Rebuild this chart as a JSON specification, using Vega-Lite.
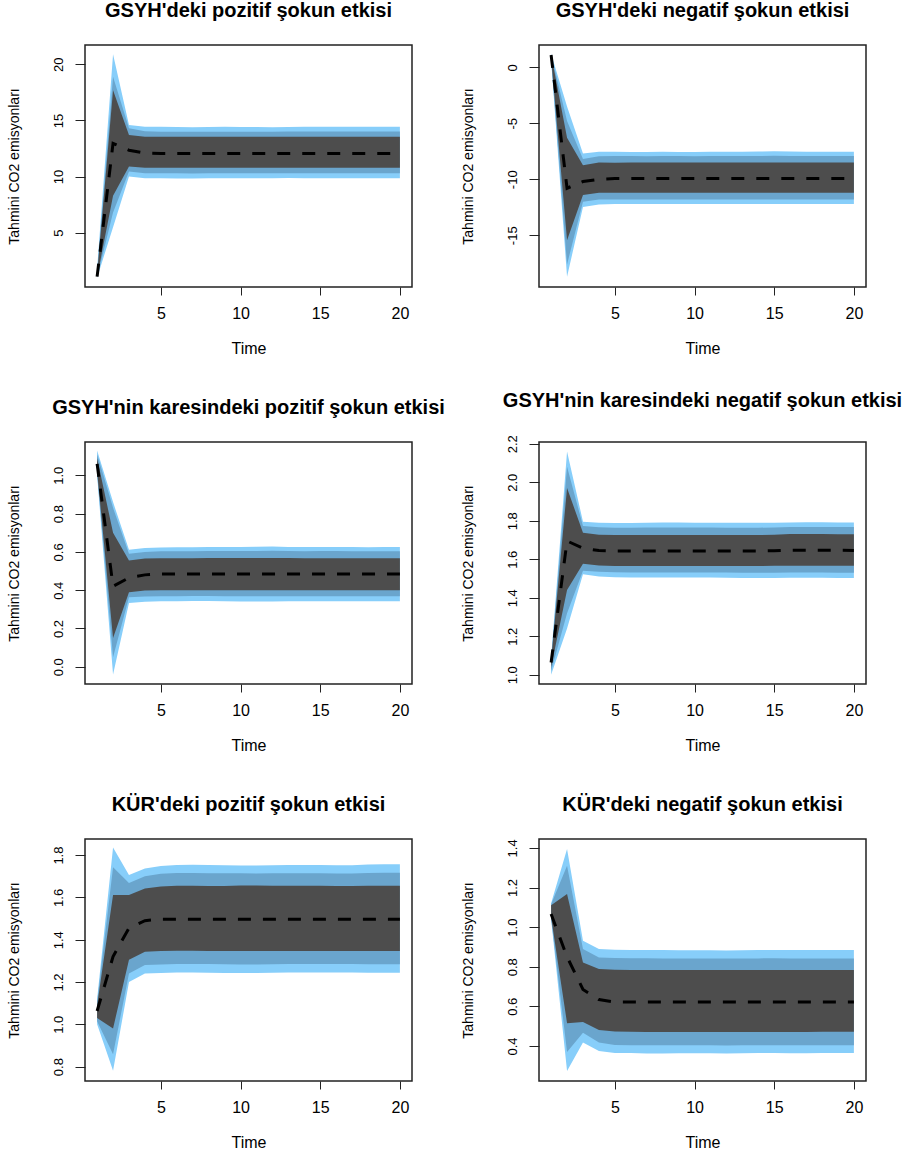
{
  "$schema": "https://vega.github.io/schema/vega-lite/v6.json",
  "background": "white",
  "padding": {"left": 6, "top": 0, "right": 5, "bottom": 5},
  "bounds": "flush",
  "columns": 2,
  "spacing": {"row": 155, "column": 127},
  "datasets": {
    "p1": [
      {"t":1,"outer_lo":1.0,"outer_hi":1.8,"mid_lo":1.03,"mid_hi":1.5,"inner_lo":1.06,"inner_hi":1.3,"median":1.1},
      {"t":2,"outer_lo":5.5,"outer_hi":20.9,"mid_lo":6.8,"mid_hi":18.9,"inner_lo":8.3,"inner_hi":17.7,"median":12.96},
      {"t":3,"outer_lo":10.0,"outer_hi":14.6,"mid_lo":10.45,"mid_hi":14.3,"inner_lo":10.9,"inner_hi":13.7,"median":12.35},
      {"t":4,"outer_lo":9.85,"outer_hi":14.45,"mid_lo":10.3,"mid_hi":14.05,"inner_lo":10.8,"inner_hi":13.55,"median":12.1},
      {"t":5,"outer_lo":9.85,"outer_hi":14.45,"mid_lo":10.3,"mid_hi":14.0,"inner_lo":10.78,"inner_hi":13.55,"median":12.05},
      {"t":6,"outer_lo":9.84,"outer_hi":14.42,"mid_lo":10.29,"mid_hi":14.0,"inner_lo":10.78,"inner_hi":13.54,"median":12.05},
      {"t":7,"outer_lo":9.84,"outer_hi":14.4,"mid_lo":10.28,"mid_hi":13.99,"inner_lo":10.79,"inner_hi":13.54,"median":12.05},
      {"t":8,"outer_lo":9.85,"outer_hi":14.42,"mid_lo":10.3,"mid_hi":14.0,"inner_lo":10.79,"inner_hi":13.55,"median":12.05},
      {"t":9,"outer_lo":9.86,"outer_hi":14.43,"mid_lo":10.3,"mid_hi":14.0,"inner_lo":10.8,"inner_hi":13.55,"median":12.05},
      {"t":10,"outer_lo":9.85,"outer_hi":14.42,"mid_lo":10.29,"mid_hi":14.0,"inner_lo":10.79,"inner_hi":13.55,"median":12.05},
      {"t":11,"outer_lo":9.86,"outer_hi":14.41,"mid_lo":10.31,"mid_hi":14.0,"inner_lo":10.8,"inner_hi":13.54,"median":12.05},
      {"t":12,"outer_lo":9.86,"outer_hi":14.4,"mid_lo":10.31,"mid_hi":13.99,"inner_lo":10.8,"inner_hi":13.54,"median":12.05},
      {"t":13,"outer_lo":9.87,"outer_hi":14.42,"mid_lo":10.3,"mid_hi":14.01,"inner_lo":10.79,"inner_hi":13.55,"median":12.05},
      {"t":14,"outer_lo":9.86,"outer_hi":14.44,"mid_lo":10.3,"mid_hi":14.02,"inner_lo":10.79,"inner_hi":13.55,"median":12.05},
      {"t":15,"outer_lo":9.85,"outer_hi":14.43,"mid_lo":10.3,"mid_hi":14.01,"inner_lo":10.79,"inner_hi":13.55,"median":12.05},
      {"t":16,"outer_lo":9.85,"outer_hi":14.44,"mid_lo":10.3,"mid_hi":14.01,"inner_lo":10.79,"inner_hi":13.55,"median":12.05},
      {"t":17,"outer_lo":9.86,"outer_hi":14.44,"mid_lo":10.3,"mid_hi":14.01,"inner_lo":10.79,"inner_hi":13.55,"median":12.05},
      {"t":18,"outer_lo":9.85,"outer_hi":14.44,"mid_lo":10.3,"mid_hi":14.01,"inner_lo":10.79,"inner_hi":13.55,"median":12.05},
      {"t":19,"outer_lo":9.85,"outer_hi":14.44,"mid_lo":10.3,"mid_hi":14.01,"inner_lo":10.79,"inner_hi":13.55,"median":12.05},
      {"t":20,"outer_lo":9.85,"outer_hi":14.44,"mid_lo":10.3,"mid_hi":14.01,"inner_lo":10.79,"inner_hi":13.55,"median":12.05}
    ],
    "p2": [
      {"t":1,"outer_lo":0.6,"outer_hi":1.2,"mid_lo":0.7,"mid_hi":1.17,"inner_lo":0.85,"inner_hi":1.15,"median":1.1},
      {"t":2,"outer_lo":-18.7,"outer_hi":-3.5,"mid_lo":-17.6,"mid_hi":-4.8,"inner_lo":-15.45,"inner_hi":-6.3,"median":-10.8},
      {"t":3,"outer_lo":-12.47,"outer_hi":-7.7,"mid_lo":-12.0,"mid_hi":-8.2,"inner_lo":-11.4,"inner_hi":-8.74,"median":-10.2},
      {"t":4,"outer_lo":-12.25,"outer_hi":-7.55,"mid_lo":-11.8,"mid_hi":-7.95,"inner_lo":-11.2,"inner_hi":-8.5,"median":-10.0},
      {"t":5,"outer_lo":-12.2,"outer_hi":-7.55,"mid_lo":-11.8,"mid_hi":-7.93,"inner_lo":-11.2,"inner_hi":-8.52,"median":-9.93},
      {"t":6,"outer_lo":-12.2,"outer_hi":-7.56,"mid_lo":-11.8,"mid_hi":-7.93,"inner_lo":-11.2,"inner_hi":-8.5,"median":-9.93},
      {"t":7,"outer_lo":-12.21,"outer_hi":-7.56,"mid_lo":-11.81,"mid_hi":-7.94,"inner_lo":-11.2,"inner_hi":-8.5,"median":-9.93},
      {"t":8,"outer_lo":-12.2,"outer_hi":-7.55,"mid_lo":-11.8,"mid_hi":-7.93,"inner_lo":-11.2,"inner_hi":-8.5,"median":-9.93},
      {"t":9,"outer_lo":-12.2,"outer_hi":-7.56,"mid_lo":-11.8,"mid_hi":-7.93,"inner_lo":-11.2,"inner_hi":-8.5,"median":-9.93},
      {"t":10,"outer_lo":-12.21,"outer_hi":-7.56,"mid_lo":-11.8,"mid_hi":-7.94,"inner_lo":-11.21,"inner_hi":-8.5,"median":-9.93},
      {"t":11,"outer_lo":-12.2,"outer_hi":-7.55,"mid_lo":-11.8,"mid_hi":-7.93,"inner_lo":-11.2,"inner_hi":-8.5,"median":-9.93},
      {"t":12,"outer_lo":-12.2,"outer_hi":-7.55,"mid_lo":-11.8,"mid_hi":-7.93,"inner_lo":-11.2,"inner_hi":-8.5,"median":-9.93},
      {"t":13,"outer_lo":-12.2,"outer_hi":-7.55,"mid_lo":-11.8,"mid_hi":-7.93,"inner_lo":-11.2,"inner_hi":-8.5,"median":-9.93},
      {"t":14,"outer_lo":-12.2,"outer_hi":-7.53,"mid_lo":-11.8,"mid_hi":-7.92,"inner_lo":-11.2,"inner_hi":-8.5,"median":-9.93},
      {"t":15,"outer_lo":-12.2,"outer_hi":-7.5,"mid_lo":-11.8,"mid_hi":-7.9,"inner_lo":-11.2,"inner_hi":-8.5,"median":-9.93},
      {"t":16,"outer_lo":-12.2,"outer_hi":-7.52,"mid_lo":-11.8,"mid_hi":-7.92,"inner_lo":-11.2,"inner_hi":-8.5,"median":-9.93},
      {"t":17,"outer_lo":-12.2,"outer_hi":-7.55,"mid_lo":-11.8,"mid_hi":-7.93,"inner_lo":-11.2,"inner_hi":-8.5,"median":-9.93},
      {"t":18,"outer_lo":-12.2,"outer_hi":-7.55,"mid_lo":-11.8,"mid_hi":-7.93,"inner_lo":-11.2,"inner_hi":-8.5,"median":-9.93},
      {"t":19,"outer_lo":-12.2,"outer_hi":-7.55,"mid_lo":-11.8,"mid_hi":-7.93,"inner_lo":-11.2,"inner_hi":-8.5,"median":-9.93},
      {"t":20,"outer_lo":-12.2,"outer_hi":-7.55,"mid_lo":-11.8,"mid_hi":-7.93,"inner_lo":-11.2,"inner_hi":-8.5,"median":-9.93}
    ],
    "p3": [
      {"t":1,"outer_lo":1.0,"outer_hi":1.13,"mid_lo":1.01,"mid_hi":1.11,"inner_lo":1.02,"inner_hi":1.09,"median":1.06},
      {"t":2,"outer_lo":-0.04,"outer_hi":0.86,"mid_lo":0.05,"mid_hi":0.83,"inner_lo":0.15,"inner_hi":0.70,"median":0.42},
      {"t":3,"outer_lo":0.333,"outer_hi":0.611,"mid_lo":0.363,"mid_hi":0.59,"inner_lo":0.389,"inner_hi":0.555,"median":0.465},
      {"t":4,"outer_lo":0.34,"outer_hi":0.62,"mid_lo":0.367,"mid_hi":0.60,"inner_lo":0.398,"inner_hi":0.565,"median":0.48},
      {"t":5,"outer_lo":0.342,"outer_hi":0.623,"mid_lo":0.368,"mid_hi":0.603,"inner_lo":0.40,"inner_hi":0.567,"median":0.485},
      {"t":6,"outer_lo":0.342,"outer_hi":0.624,"mid_lo":0.368,"mid_hi":0.604,"inner_lo":0.40,"inner_hi":0.567,"median":0.485},
      {"t":7,"outer_lo":0.343,"outer_hi":0.624,"mid_lo":0.369,"mid_hi":0.604,"inner_lo":0.40,"inner_hi":0.567,"median":0.485},
      {"t":8,"outer_lo":0.343,"outer_hi":0.626,"mid_lo":0.369,"mid_hi":0.605,"inner_lo":0.40,"inner_hi":0.568,"median":0.485},
      {"t":9,"outer_lo":0.342,"outer_hi":0.626,"mid_lo":0.368,"mid_hi":0.605,"inner_lo":0.40,"inner_hi":0.568,"median":0.485},
      {"t":10,"outer_lo":0.341,"outer_hi":0.626,"mid_lo":0.368,"mid_hi":0.605,"inner_lo":0.40,"inner_hi":0.568,"median":0.485},
      {"t":11,"outer_lo":0.341,"outer_hi":0.627,"mid_lo":0.368,"mid_hi":0.605,"inner_lo":0.40,"inner_hi":0.568,"median":0.485},
      {"t":12,"outer_lo":0.341,"outer_hi":0.628,"mid_lo":0.368,"mid_hi":0.606,"inner_lo":0.40,"inner_hi":0.568,"median":0.485},
      {"t":13,"outer_lo":0.342,"outer_hi":0.626,"mid_lo":0.368,"mid_hi":0.605,"inner_lo":0.40,"inner_hi":0.568,"median":0.485},
      {"t":14,"outer_lo":0.342,"outer_hi":0.625,"mid_lo":0.368,"mid_hi":0.604,"inner_lo":0.40,"inner_hi":0.567,"median":0.485},
      {"t":15,"outer_lo":0.342,"outer_hi":0.626,"mid_lo":0.368,"mid_hi":0.605,"inner_lo":0.40,"inner_hi":0.567,"median":0.485},
      {"t":16,"outer_lo":0.342,"outer_hi":0.626,"mid_lo":0.368,"mid_hi":0.605,"inner_lo":0.40,"inner_hi":0.567,"median":0.485},
      {"t":17,"outer_lo":0.342,"outer_hi":0.625,"mid_lo":0.368,"mid_hi":0.604,"inner_lo":0.40,"inner_hi":0.567,"median":0.485},
      {"t":18,"outer_lo":0.342,"outer_hi":0.624,"mid_lo":0.368,"mid_hi":0.604,"inner_lo":0.40,"inner_hi":0.567,"median":0.485},
      {"t":19,"outer_lo":0.342,"outer_hi":0.625,"mid_lo":0.368,"mid_hi":0.604,"inner_lo":0.40,"inner_hi":0.567,"median":0.485},
      {"t":20,"outer_lo":0.342,"outer_hi":0.625,"mid_lo":0.368,"mid_hi":0.604,"inner_lo":0.40,"inner_hi":0.567,"median":0.485}
    ],
    "p4": [
      {"t":1,"outer_lo":1.0,"outer_hi":1.09,"mid_lo":1.02,"mid_hi":1.08,"inner_lo":1.04,"inner_hi":1.075,"median":1.064},
      {"t":2,"outer_lo":1.24,"outer_hi":2.16,"mid_lo":1.32,"mid_hi":2.08,"inner_lo":1.44,"inner_hi":1.97,"median":1.695},
      {"t":3,"outer_lo":1.522,"outer_hi":1.795,"mid_lo":1.54,"mid_hi":1.773,"inner_lo":1.577,"inner_hi":1.738,"median":1.657},
      {"t":4,"outer_lo":1.51,"outer_hi":1.79,"mid_lo":1.535,"mid_hi":1.766,"inner_lo":1.567,"inner_hi":1.727,"median":1.645},
      {"t":5,"outer_lo":1.506,"outer_hi":1.788,"mid_lo":1.532,"mid_hi":1.764,"inner_lo":1.565,"inner_hi":1.726,"median":1.643},
      {"t":6,"outer_lo":1.505,"outer_hi":1.788,"mid_lo":1.531,"mid_hi":1.764,"inner_lo":1.565,"inner_hi":1.726,"median":1.643},
      {"t":7,"outer_lo":1.505,"outer_hi":1.79,"mid_lo":1.531,"mid_hi":1.765,"inner_lo":1.565,"inner_hi":1.726,"median":1.643},
      {"t":8,"outer_lo":1.505,"outer_hi":1.791,"mid_lo":1.531,"mid_hi":1.765,"inner_lo":1.565,"inner_hi":1.726,"median":1.643},
      {"t":9,"outer_lo":1.505,"outer_hi":1.791,"mid_lo":1.531,"mid_hi":1.765,"inner_lo":1.565,"inner_hi":1.726,"median":1.643},
      {"t":10,"outer_lo":1.505,"outer_hi":1.79,"mid_lo":1.531,"mid_hi":1.765,"inner_lo":1.565,"inner_hi":1.726,"median":1.643},
      {"t":11,"outer_lo":1.505,"outer_hi":1.79,"mid_lo":1.531,"mid_hi":1.765,"inner_lo":1.565,"inner_hi":1.726,"median":1.643},
      {"t":12,"outer_lo":1.504,"outer_hi":1.789,"mid_lo":1.531,"mid_hi":1.764,"inner_lo":1.565,"inner_hi":1.726,"median":1.643},
      {"t":13,"outer_lo":1.503,"outer_hi":1.789,"mid_lo":1.53,"mid_hi":1.764,"inner_lo":1.565,"inner_hi":1.726,"median":1.643},
      {"t":14,"outer_lo":1.502,"outer_hi":1.789,"mid_lo":1.53,"mid_hi":1.764,"inner_lo":1.565,"inner_hi":1.726,"median":1.643},
      {"t":15,"outer_lo":1.503,"outer_hi":1.789,"mid_lo":1.53,"mid_hi":1.765,"inner_lo":1.566,"inner_hi":1.727,"median":1.644},
      {"t":16,"outer_lo":1.504,"outer_hi":1.791,"mid_lo":1.531,"mid_hi":1.767,"inner_lo":1.566,"inner_hi":1.731,"median":1.647},
      {"t":17,"outer_lo":1.504,"outer_hi":1.792,"mid_lo":1.531,"mid_hi":1.768,"inner_lo":1.566,"inner_hi":1.731,"median":1.647},
      {"t":18,"outer_lo":1.504,"outer_hi":1.792,"mid_lo":1.531,"mid_hi":1.768,"inner_lo":1.566,"inner_hi":1.731,"median":1.647},
      {"t":19,"outer_lo":1.503,"outer_hi":1.791,"mid_lo":1.53,"mid_hi":1.767,"inner_lo":1.566,"inner_hi":1.73,"median":1.647},
      {"t":20,"outer_lo":1.503,"outer_hi":1.791,"mid_lo":1.53,"mid_hi":1.767,"inner_lo":1.566,"inner_hi":1.73,"median":1.646}
    ],
    "p5": [
      {"t":1,"outer_lo":1.0,"outer_hi":1.12,"mid_lo":1.015,"mid_hi":1.105,"inner_lo":1.03,"inner_hi":1.09,"median":1.063},
      {"t":2,"outer_lo":0.78,"outer_hi":1.836,"mid_lo":0.859,"mid_hi":1.742,"inner_lo":0.98,"inner_hi":1.611,"median":1.32},
      {"t":3,"outer_lo":1.2,"outer_hi":1.706,"mid_lo":1.24,"mid_hi":1.668,"inner_lo":1.305,"inner_hi":1.611,"median":1.455},
      {"t":4,"outer_lo":1.24,"outer_hi":1.737,"mid_lo":1.28,"mid_hi":1.70,"inner_lo":1.343,"inner_hi":1.642,"median":1.49},
      {"t":5,"outer_lo":1.243,"outer_hi":1.748,"mid_lo":1.283,"mid_hi":1.712,"inner_lo":1.347,"inner_hi":1.652,"median":1.497},
      {"t":6,"outer_lo":1.245,"outer_hi":1.753,"mid_lo":1.285,"mid_hi":1.715,"inner_lo":1.348,"inner_hi":1.655,"median":1.497},
      {"t":7,"outer_lo":1.245,"outer_hi":1.754,"mid_lo":1.285,"mid_hi":1.715,"inner_lo":1.348,"inner_hi":1.655,"median":1.497},
      {"t":8,"outer_lo":1.244,"outer_hi":1.753,"mid_lo":1.285,"mid_hi":1.714,"inner_lo":1.347,"inner_hi":1.654,"median":1.497},
      {"t":9,"outer_lo":1.243,"outer_hi":1.752,"mid_lo":1.284,"mid_hi":1.714,"inner_lo":1.347,"inner_hi":1.654,"median":1.497},
      {"t":10,"outer_lo":1.242,"outer_hi":1.751,"mid_lo":1.283,"mid_hi":1.714,"inner_lo":1.347,"inner_hi":1.656,"median":1.497},
      {"t":11,"outer_lo":1.242,"outer_hi":1.751,"mid_lo":1.283,"mid_hi":1.713,"inner_lo":1.347,"inner_hi":1.656,"median":1.497},
      {"t":12,"outer_lo":1.244,"outer_hi":1.752,"mid_lo":1.284,"mid_hi":1.714,"inner_lo":1.347,"inner_hi":1.655,"median":1.497},
      {"t":13,"outer_lo":1.245,"outer_hi":1.753,"mid_lo":1.285,"mid_hi":1.714,"inner_lo":1.347,"inner_hi":1.655,"median":1.497},
      {"t":14,"outer_lo":1.245,"outer_hi":1.753,"mid_lo":1.285,"mid_hi":1.714,"inner_lo":1.347,"inner_hi":1.655,"median":1.497},
      {"t":15,"outer_lo":1.245,"outer_hi":1.753,"mid_lo":1.285,"mid_hi":1.714,"inner_lo":1.347,"inner_hi":1.655,"median":1.497},
      {"t":16,"outer_lo":1.245,"outer_hi":1.752,"mid_lo":1.285,"mid_hi":1.713,"inner_lo":1.347,"inner_hi":1.654,"median":1.497},
      {"t":17,"outer_lo":1.245,"outer_hi":1.752,"mid_lo":1.285,"mid_hi":1.713,"inner_lo":1.347,"inner_hi":1.654,"median":1.497},
      {"t":18,"outer_lo":1.244,"outer_hi":1.755,"mid_lo":1.284,"mid_hi":1.715,"inner_lo":1.347,"inner_hi":1.655,"median":1.497},
      {"t":19,"outer_lo":1.244,"outer_hi":1.757,"mid_lo":1.284,"mid_hi":1.716,"inner_lo":1.347,"inner_hi":1.655,"median":1.497},
      {"t":20,"outer_lo":1.244,"outer_hi":1.757,"mid_lo":1.284,"mid_hi":1.716,"inner_lo":1.347,"inner_hi":1.655,"median":1.497}
    ],
    "p6": [
      {"t":1,"outer_lo":1.04,"outer_hi":1.12,"mid_lo":1.045,"mid_hi":1.115,"inner_lo":1.05,"inner_hi":1.11,"median":1.066},
      {"t":2,"outer_lo":0.274,"outer_hi":1.395,"mid_lo":0.37,"mid_hi":1.31,"inner_lo":0.515,"inner_hi":1.167,"median":0.85},
      {"t":3,"outer_lo":0.417,"outer_hi":0.931,"mid_lo":0.467,"mid_hi":0.889,"inner_lo":0.521,"inner_hi":0.821,"median":0.685},
      {"t":4,"outer_lo":0.375,"outer_hi":0.889,"mid_lo":0.417,"mid_hi":0.847,"inner_lo":0.481,"inner_hi":0.788,"median":0.634},
      {"t":5,"outer_lo":0.365,"outer_hi":0.886,"mid_lo":0.405,"mid_hi":0.844,"inner_lo":0.473,"inner_hi":0.785,"median":0.622},
      {"t":6,"outer_lo":0.364,"outer_hi":0.885,"mid_lo":0.404,"mid_hi":0.843,"inner_lo":0.472,"inner_hi":0.784,"median":0.622},
      {"t":7,"outer_lo":0.362,"outer_hi":0.885,"mid_lo":0.403,"mid_hi":0.843,"inner_lo":0.471,"inner_hi":0.783,"median":0.622},
      {"t":8,"outer_lo":0.362,"outer_hi":0.884,"mid_lo":0.403,"mid_hi":0.842,"inner_lo":0.471,"inner_hi":0.783,"median":0.622},
      {"t":9,"outer_lo":0.363,"outer_hi":0.883,"mid_lo":0.403,"mid_hi":0.842,"inner_lo":0.471,"inner_hi":0.783,"median":0.622},
      {"t":10,"outer_lo":0.363,"outer_hi":0.883,"mid_lo":0.403,"mid_hi":0.842,"inner_lo":0.471,"inner_hi":0.783,"median":0.622},
      {"t":11,"outer_lo":0.363,"outer_hi":0.883,"mid_lo":0.403,"mid_hi":0.842,"inner_lo":0.471,"inner_hi":0.783,"median":0.622},
      {"t":12,"outer_lo":0.362,"outer_hi":0.882,"mid_lo":0.402,"mid_hi":0.841,"inner_lo":0.471,"inner_hi":0.783,"median":0.622},
      {"t":13,"outer_lo":0.363,"outer_hi":0.883,"mid_lo":0.403,"mid_hi":0.842,"inner_lo":0.471,"inner_hi":0.783,"median":0.622},
      {"t":14,"outer_lo":0.364,"outer_hi":0.884,"mid_lo":0.404,"mid_hi":0.842,"inner_lo":0.471,"inner_hi":0.783,"median":0.622},
      {"t":15,"outer_lo":0.364,"outer_hi":0.885,"mid_lo":0.404,"mid_hi":0.843,"inner_lo":0.471,"inner_hi":0.783,"median":0.622},
      {"t":16,"outer_lo":0.363,"outer_hi":0.884,"mid_lo":0.403,"mid_hi":0.842,"inner_lo":0.471,"inner_hi":0.783,"median":0.622},
      {"t":17,"outer_lo":0.363,"outer_hi":0.884,"mid_lo":0.403,"mid_hi":0.842,"inner_lo":0.471,"inner_hi":0.783,"median":0.622},
      {"t":18,"outer_lo":0.364,"outer_hi":0.884,"mid_lo":0.404,"mid_hi":0.842,"inner_lo":0.472,"inner_hi":0.783,"median":0.622},
      {"t":19,"outer_lo":0.364,"outer_hi":0.884,"mid_lo":0.404,"mid_hi":0.842,"inner_lo":0.472,"inner_hi":0.783,"median":0.622},
      {"t":20,"outer_lo":0.364,"outer_hi":0.884,"mid_lo":0.404,"mid_hi":0.842,"inner_lo":0.472,"inner_hi":0.783,"median":0.622}
    ]
  },
  "concat": [
    {
      "title": "GSYH'deki pozitif şokun etkisi",
      "width": 327, "height": 242,
      "data": {"name": "p1"},
      "encoding": {"x": {"field": "t", "type": "quantitative", "title": "Time", "scale": {"domain": [0.24, 20.76], "nice": false, "zero": false}, "axis": {"values": [5, 10, 15, 20]}}},
      "layer": [
        {"mark": {"type": "area", "color": "#87CEFA"}, "encoding": {"y": {"field": "outer_lo", "type": "quantitative", "title": "Tahmini CO2 emisyonları", "scale": {"domain": [0.17, 21.72], "nice": false, "zero": false}, "axis": {"values": [5, 10, 15, 20], "labelExpr": "'' + datum.value"}}, "y2": {"field": "outer_hi"}}},
        {"mark": {"type": "area", "color": "#6AA5CD"}, "encoding": {"y": {"field": "mid_lo", "type": "quantitative", "title": "Tahmini CO2 emisyonları"}, "y2": {"field": "mid_hi"}}},
        {"mark": {"type": "area", "color": "#4D4D4D"}, "encoding": {"y": {"field": "inner_lo", "type": "quantitative", "title": "Tahmini CO2 emisyonları"}, "y2": {"field": "inner_hi"}}},
        {"mark": {"type": "line", "color": "#000000", "strokeWidth": 3, "strokeDash": [13, 12]}, "encoding": {"y": {"field": "median", "type": "quantitative", "title": "Tahmini CO2 emisyonları"}}}
      ]
    },
    {
      "title": "GSYH'deki negatif şokun etkisi",
      "width": 327, "height": 242,
      "data": {"name": "p2"},
      "encoding": {"x": {"field": "t", "type": "quantitative", "title": "Time", "scale": {"domain": [0.24, 20.76], "nice": false, "zero": false}, "axis": {"values": [5, 10, 15, 20]}}},
      "layer": [
        {"mark": {"type": "area", "color": "#87CEFA"}, "encoding": {"y": {"field": "outer_lo", "type": "quantitative", "title": "Tahmini CO2 emisyonları", "scale": {"domain": [-19.62, 1.99], "nice": false, "zero": false}, "axis": {"values": [-15, -10, -5, 0], "labelExpr": "'' + datum.value"}}, "y2": {"field": "outer_hi"}}},
        {"mark": {"type": "area", "color": "#6AA5CD"}, "encoding": {"y": {"field": "mid_lo", "type": "quantitative", "title": "Tahmini CO2 emisyonları"}, "y2": {"field": "mid_hi"}}},
        {"mark": {"type": "area", "color": "#4D4D4D"}, "encoding": {"y": {"field": "inner_lo", "type": "quantitative", "title": "Tahmini CO2 emisyonları"}, "y2": {"field": "inner_hi"}}},
        {"mark": {"type": "line", "color": "#000000", "strokeWidth": 3, "strokeDash": [13, 12]}, "encoding": {"y": {"field": "median", "type": "quantitative", "title": "Tahmini CO2 emisyonları"}}}
      ]
    },
    {
      "title": "GSYH'nin karesindeki pozitif şokun etkisi",
      "width": 327, "height": 242,
      "data": {"name": "p3"},
      "encoding": {"x": {"field": "t", "type": "quantitative", "title": "Time", "scale": {"domain": [0.24, 20.76], "nice": false, "zero": false}, "axis": {"values": [5, 10, 15, 20]}}},
      "layer": [
        {"mark": {"type": "area", "color": "#87CEFA"}, "encoding": {"y": {"field": "outer_lo", "type": "quantitative", "title": "Tahmini CO2 emisyonları", "scale": {"domain": [-0.09, 1.174], "nice": false, "zero": false}, "axis": {"values": [0, 0.2, 0.4, 0.6, 0.8, 1.0], "format": ".1f"}}, "y2": {"field": "outer_hi"}}},
        {"mark": {"type": "area", "color": "#6AA5CD"}, "encoding": {"y": {"field": "mid_lo", "type": "quantitative", "title": "Tahmini CO2 emisyonları"}, "y2": {"field": "mid_hi"}}},
        {"mark": {"type": "area", "color": "#4D4D4D"}, "encoding": {"y": {"field": "inner_lo", "type": "quantitative", "title": "Tahmini CO2 emisyonları"}, "y2": {"field": "inner_hi"}}},
        {"mark": {"type": "line", "color": "#000000", "strokeWidth": 3, "strokeDash": [13, 12]}, "encoding": {"y": {"field": "median", "type": "quantitative", "title": "Tahmini CO2 emisyonları"}}}
      ]
    },
    {
      "title": "GSYH'nin karesindeki negatif şokun etkisi",
      "width": 327, "height": 242,
      "data": {"name": "p4"},
      "encoding": {"x": {"field": "t", "type": "quantitative", "title": "Time", "scale": {"domain": [0.24, 20.76], "nice": false, "zero": false}, "axis": {"values": [5, 10, 15, 20]}}},
      "layer": [
        {"mark": {"type": "area", "color": "#87CEFA"}, "encoding": {"y": {"field": "outer_lo", "type": "quantitative", "title": "Tahmini CO2 emisyonları", "scale": {"domain": [0.952, 2.209], "nice": false, "zero": false}, "axis": {"values": [1.0, 1.2, 1.4, 1.6, 1.8, 2.0, 2.2], "format": ".1f"}}, "y2": {"field": "outer_hi"}}},
        {"mark": {"type": "area", "color": "#6AA5CD"}, "encoding": {"y": {"field": "mid_lo", "type": "quantitative", "title": "Tahmini CO2 emisyonları"}, "y2": {"field": "mid_hi"}}},
        {"mark": {"type": "area", "color": "#4D4D4D"}, "encoding": {"y": {"field": "inner_lo", "type": "quantitative", "title": "Tahmini CO2 emisyonları"}, "y2": {"field": "inner_hi"}}},
        {"mark": {"type": "line", "color": "#000000", "strokeWidth": 3, "strokeDash": [13, 12]}, "encoding": {"y": {"field": "median", "type": "quantitative", "title": "Tahmini CO2 emisyonları"}}}
      ]
    },
    {
      "title": "KÜR'deki pozitif şokun etkisi",
      "width": 327, "height": 242,
      "data": {"name": "p5"},
      "encoding": {"x": {"field": "t", "type": "quantitative", "title": "Time", "scale": {"domain": [0.24, 20.76], "nice": false, "zero": false}, "axis": {"values": [5, 10, 15, 20]}}},
      "layer": [
        {"mark": {"type": "area", "color": "#87CEFA"}, "encoding": {"y": {"field": "outer_lo", "type": "quantitative", "title": "Tahmini CO2 emisyonları", "scale": {"domain": [0.732, 1.876], "nice": false, "zero": false}, "axis": {"values": [0.8, 1.0, 1.2, 1.4, 1.6, 1.8], "format": ".1f"}}, "y2": {"field": "outer_hi"}}},
        {"mark": {"type": "area", "color": "#6AA5CD"}, "encoding": {"y": {"field": "mid_lo", "type": "quantitative", "title": "Tahmini CO2 emisyonları"}, "y2": {"field": "mid_hi"}}},
        {"mark": {"type": "area", "color": "#4D4D4D"}, "encoding": {"y": {"field": "inner_lo", "type": "quantitative", "title": "Tahmini CO2 emisyonları"}, "y2": {"field": "inner_hi"}}},
        {"mark": {"type": "line", "color": "#000000", "strokeWidth": 3, "strokeDash": [13, 12]}, "encoding": {"y": {"field": "median", "type": "quantitative", "title": "Tahmini CO2 emisyonları"}}}
      ]
    },
    {
      "title": "KÜR'deki negatif şokun etkisi",
      "width": 327, "height": 242,
      "data": {"name": "p6"},
      "encoding": {"x": {"field": "t", "type": "quantitative", "title": "Time", "scale": {"domain": [0.24, 20.76], "nice": false, "zero": false}, "axis": {"values": [5, 10, 15, 20]}}},
      "layer": [
        {"mark": {"type": "area", "color": "#87CEFA"}, "encoding": {"y": {"field": "outer_lo", "type": "quantitative", "title": "Tahmini CO2 emisyonları", "scale": {"domain": [0.223, 1.445], "nice": false, "zero": false}, "axis": {"values": [0.4, 0.6, 0.8, 1.0, 1.2, 1.4], "format": ".1f"}}, "y2": {"field": "outer_hi"}}},
        {"mark": {"type": "area", "color": "#6AA5CD"}, "encoding": {"y": {"field": "mid_lo", "type": "quantitative", "title": "Tahmini CO2 emisyonları"}, "y2": {"field": "mid_hi"}}},
        {"mark": {"type": "area", "color": "#4D4D4D"}, "encoding": {"y": {"field": "inner_lo", "type": "quantitative", "title": "Tahmini CO2 emisyonları"}, "y2": {"field": "inner_hi"}}},
        {"mark": {"type": "line", "color": "#000000", "strokeWidth": 3, "strokeDash": [13, 12]}, "encoding": {"y": {"field": "median", "type": "quantitative", "title": "Tahmini CO2 emisyonları"}}}
      ]
    }
  ],
  "config": {
    "font": "Liberation Sans",
    "view": {"stroke": "#222222", "strokeWidth": 1.5},
    "axis": {"domain": false, "grid": false, "tickColor": "#222222", "tickWidth": 1, "labelColor": "#000000", "titleColor": "#000000", "labelFont": "Liberation Sans", "titleFont": "Liberation Sans", "titleFontWeight": "normal", "labelFlush": false, "labelOverlap": false},
    "axisX": {"tickSize": 8, "labelFontSize": 16, "labelPadding": 10, "titleFontSize": 16, "titlePadding": 23, "minExtent": 30, "maxExtent": 30},
    "axisY": {"tickSize": 10, "labelFontSize": 13, "labelAngle": -90, "labelAlign": "center", "labelBaseline": "alphabetic", "labelPadding": 13, "titleFontSize": 14, "titlePadding": 14, "minExtent": 50, "maxExtent": 50},
    "title": {"fontSize": 20, "fontWeight": "bold", "font": "Liberation Sans", "frame": "group", "baseline": "alphabetic", "offset": 24, "color": "#000000"}
  }
}
